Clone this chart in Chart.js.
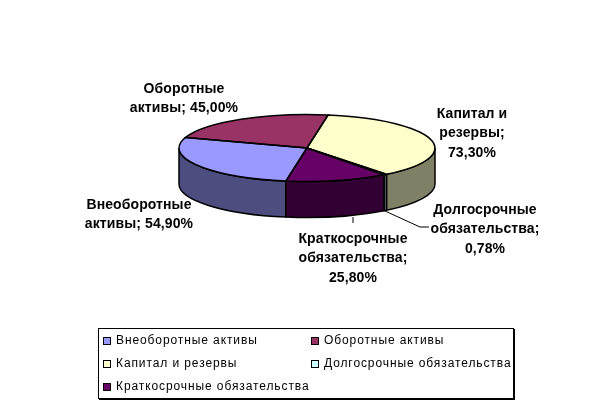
<!DOCTYPE html>
<html>
<head>
<meta charset="utf-8">
<style>
  html, body { margin: 0; background: #fff; }
  canvas { display: block; }
</style>
<script src="https://cdn.jsdelivr.net/npm/chart.js@4"></script>
</head>
<body>
<canvas id="pie3d" width="615" height="411"></canvas>
<script>
var categories = ['Внеоборотные активы', 'Оборотные активы', 'Капитал и резервы', 'Долгосрочные обязательства', 'Краткосрочные обязательства'];
var values = [54.9, 45.0, 73.3, 0.78, 25.8];
var faceColors = ['#9999ff', '#993366', '#ffffcc', '#ccffff', '#660066'];
var sideColors = ['#4d4d80', '#4d1a33', '#808066', '#668080', '#330033'];

// label placement: centre x, first line y, wrap width, optional leader line
var labelBoxes = [
  { x: 139, y: 205, wrap: 125 },
  { x: 184, y: 89, wrap: 125 },
  { x: 472, y: 114, wrap: 80 },
  { x: 485, y: 210, wrap: 125, leader: [[385, 211], [420, 227], [429, 227]] },
  { x: 353, y: 239, wrap: 125, leader: [[353, 217], [353, 223]] }
];
var squash = 0.262;
var depth = 36;

function wrapText(ctx, text, width) {
  var lines = [], cur = '';
  text.split(' ').forEach(function (w) {
    var t = cur ? cur + ' ' + w : w;
    if (cur && ctx.measureText(t).width > width) { lines.push(cur); cur = w; } else { cur = t; }
  });
  lines.push(cur);
  return lines;
}

var pie3d = {
  id: 'pie3d',
  beforeDatasetsDraw: function (chart) {
    var ctx = chart.ctx;
    var arcs = chart.getDatasetMeta(0).data;
    // side walls, only the part of each slice facing the viewer
    arcs.forEach(function (a, i) {
      [-2, 0, 2].forEach(function (n) {
        var s = Math.max(a.startAngle + n * Math.PI, 0);
        var e = Math.min(a.endAngle + n * Math.PI, Math.PI);
        if (e <= s) return;
        var ry = a.outerRadius * squash;
        ctx.beginPath();
        ctx.ellipse(a.x, a.y, a.outerRadius, ry, 0, s, e);
        ctx.ellipse(a.x, a.y + depth, a.outerRadius, ry, 0, e, s, true);
        ctx.closePath();
        ctx.fillStyle = sideColors[i];
        ctx.fill();
        ctx.lineWidth = 1.5;
        ctx.strokeStyle = '#000';
        ctx.stroke();
      });
    });
    // the library draws the top faces through this flattened transform
    var cy = arcs[0].y;
    ctx.save();
    ctx.translate(0, cy);
    ctx.scale(1, squash);
    ctx.translate(0, -cy);
  },
  afterDatasetsDraw: function (chart) {
    var ctx = chart.ctx;
    ctx.restore();
    var arcs = chart.getDatasetMeta(0).data;
    arcs.forEach(function (a) {
      ctx.beginPath();
      ctx.moveTo(a.x, a.y);
      ctx.ellipse(a.x, a.y, a.outerRadius, a.outerRadius * squash, 0, a.startAngle, a.endAngle);
      ctx.closePath();
      ctx.lineWidth = 1.5;
      ctx.strokeStyle = '#000';
      ctx.stroke();
    });
    drawLabels(ctx);
    drawLegend(ctx);
  }
};

function drawLabels(ctx) {
  ctx.font = 'bold 14px "Liberation Sans"';
  ctx.letterSpacing = '0.1px';
  ctx.textAlign = 'center';
  ctx.textBaseline = 'middle';
  ctx.fillStyle = '#000';
  categories.forEach(function (name, i) {
    var box = labelBoxes[i];
    var text = name + '; ' + values[i].toFixed(2).replace('.', ',') + '%';
    wrapText(ctx, text, box.wrap).forEach(function (line, n) {
      ctx.fillText(line, box.x, box.y + n * 19.5);
    });
    if (box.leader) {
      ctx.beginPath();
      box.leader.forEach(function (p, n) {
        if (n) ctx.lineTo(p[0], p[1]); else ctx.moveTo(p[0], p[1]);
      });
      ctx.lineWidth = 1;
      ctx.strokeStyle = '#000';
      ctx.stroke();
    }
  });
}

function drawLegend(ctx) {
  var slots = [[103, 341], [311, 341], [103, 364], [311, 364], [103, 387]];
  ctx.fillStyle = '#000';
  ctx.fillRect(99, 329, 416, 71);
  ctx.fillStyle = '#fff';
  ctx.fillRect(99, 329, 414, 69);
  ctx.strokeStyle = '#000';
  ctx.lineWidth = 1;
  ctx.strokeRect(98.5, 328.5, 415, 70);
  ctx.font = '12px "Liberation Sans"';
  ctx.letterSpacing = '0.9px';
  ctx.textAlign = 'left';
  ctx.textBaseline = 'middle';
  categories.forEach(function (name, i) {
    var p = slots[i];
    ctx.fillStyle = faceColors[i];
    ctx.fillRect(p[0], p[1] - 4, 8, 8);
    ctx.lineWidth = 1;
    ctx.strokeStyle = '#000';
    ctx.strokeRect(p[0] + 0.5, p[1] - 3.5, 7, 7);
    ctx.fillStyle = '#000';
    ctx.fillText(name, p[0] + 13, p[1]);
  });
}

new Chart(document.getElementById('pie3d').getContext('2d'), {
  type: 'pie',
  data: {
    labels: categories,
    datasets: [{
      data: values,
      backgroundColor: faceColors,
      borderWidth: 0
    }]
  },
  options: {
    responsive: false,
    animation: false,
    rotation: 189.5,
    layout: { padding: { left: 179, right: 180, top: 20, bottom: 135 } },
    plugins: { legend: { display: false }, tooltip: { enabled: false } }
  },
  plugins: [pie3d]
});
</script>
</body>
</html>
